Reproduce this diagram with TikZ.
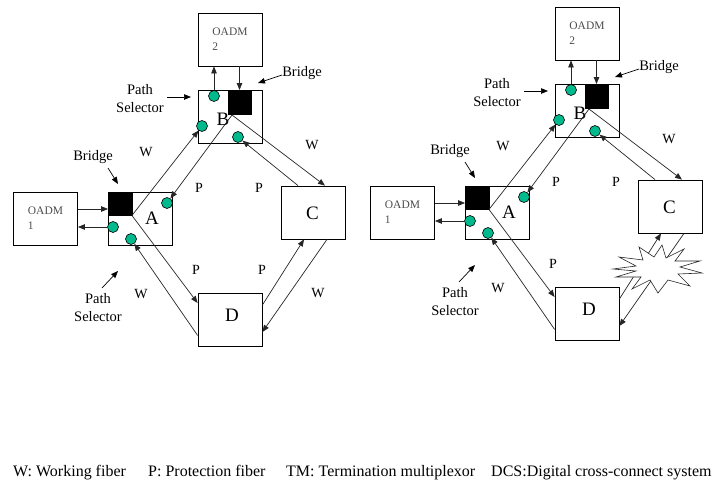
\documentclass[tikz,border=0pt]{standalone}
\usepackage{fontspec}
\setmainfont{Liberation Serif}
\usetikzlibrary{arrows.meta}

\definecolor{dotgreen}{RGB}{0,185,140}

\tikzset{
  netbox/.style={draw=black, fill=white, line width=0.8pt, inner sep=0pt,
    minimum width=64pt, minimum height=53pt},
  oadmbox/.style={netbox, align=left, text=black!70,
    font=\fontsize{11.5}{15}\selectfont},
  bigletter/.style={inner sep=0pt, font=\fontsize{19}{19}\selectfont},
  blacksq/.style={fill=black, draw=black, inner sep=0pt, minimum size=23.5pt},
  selector/.style={circle, fill=dotgreen, draw=black, line width=0.6pt,
    inner sep=0pt, minimum size=11pt},
  fiber/.style={draw=black!85, line width=0.7pt,
    -{Triangle[length=7pt,width=5.5pt]}},
  pointer/.style={draw=black, line width=0.7pt,
    -{Triangle[length=7pt,width=5.5pt]}},
  annot/.style={inner sep=0pt, align=center,
    font=\fontsize{14.5}{18}\selectfont},
  fiberlbl/.style={inner sep=0pt, font=\fontsize{14}{14}\selectfont},
  legend/.style={inner sep=0pt, anchor=base west,
    font=\fontsize{16}{16}\selectfont},
}

% One ring of four nodes A-D with its two add/drop multiplexers;
% #1 is the prefix of every node name.
\newcommand\ringnet[1]{%
  % boxes
  \node[oadmbox] (#1O2) at (230,39.5) {OADM\\2};
  \node[oadmbox] (#1O1) at (45.5,218.5) {OADM\\1};
  \node[netbox] (#1B) at (230,117) {};
  \node[netbox] (#1A) at (140.5,218.5) {};
  \node[netbox] (#1C) at (313.5,212.5) {};
  \node[netbox] (#1D) at (230,319.5) {};
  \node[bigletter] (#1Bl) at (223,119) {B};
  \node[bigletter] (#1Al) at (152,218) {A};
  \node[bigletter] (#1Cl) at (312.5,213) {C};
  \node[bigletter] (#1Dl) at (232,315.5) {D};
  % bridges
  \node[blacksq] (#1Bbk) at (239.5,102) {};
  \node[blacksq] (#1Abk) at (120,203.5) {};
  % path selectors
  \node[selector] (#1dB1) at (214,96) {};
  \node[selector] (#1dB2) at (202,126) {};
  \node[selector] (#1dB3) at (238,137) {};
  \node[selector] (#1dA1) at (167,203) {};
  \node[selector] (#1dA2) at (113,227) {};
  \node[selector] (#1dA3) at (131,239) {};
  % fiber end points on the boxes
  \coordinate (#1Bs) at (232,115);
  \coordinate (#1Cw) at ([xshift=11.5pt]#1C.north);
  \coordinate (#1Cp) at ([xshift=-15.5pt]#1C.north);
  \coordinate (#1Dp) at ([yshift=16.5pt]#1D.west);
  \coordinate (#1Dw) at ([yshift=11pt]#1D.south west);
  \coordinate (#1Dq) at ([yshift=14.5pt]#1D.east);
  \coordinate (#1Cq) at ([xshift=-9.5pt]#1C.south);
  \coordinate (#1Cv) at ([xshift=13.5pt]#1C.south);
  \coordinate (#1Dv) at ([yshift=-12.5pt]#1D.east);
  \coordinate (#1in) at ([yshift=9.5pt]#1O1.east);
  % fibers
  \draw[fiber] (#1Abk.south east) -- (#1dB2);
  \draw[fiber] (#1Bs) -- (#1dA1);
  \draw[fiber] (#1Bs) -- (#1Cw);
  \draw[fiber] (#1Cp) -- (#1dB3);
  \draw[fiber] (#1Abk.south east) -- (#1Dp);
  \draw[fiber] (#1Dw) -- (#1dA3);
  \draw[fiber] (#1Dq) -- (#1Cq);
  \draw[fiber] (#1Cv) -- (#1Dv);
  % add/drop links
  \draw[fiber] (#1in) -- (#1in -| #1Abk.west);
  \draw[fiber] (#1dA2.west) -- (#1dA2.west -| #1O1.east);
  \draw[fiber] (#1dB1.north) -- (#1dB1.north |- #1O2.south);
  \draw[fiber] (#1Bbk.north |- #1O2.south) -- (#1Bbk.north);
  % annotations
  \node[annot] (#1brT) at (302,73) {Bridge};
  \coordinate (#1brTa) at (282,75);
  \coordinate (#1brTb) at (258,83);
  \draw[pointer] (#1brTa) -- (#1brTb);
  \node[annot] (#1psT) at (140,99) {Path\\Selector};
  \coordinate (#1psTa) at (167,97);
  \coordinate (#1psTb) at (191,97);
  \draw[pointer] (#1psTa) -- (#1psTb);
  \node[annot] (#1brL) at (93,157) {Bridge};
  \coordinate (#1brLa) at (108,168);
  \coordinate (#1brLb) at (118,184);
  \draw[pointer] (#1brLa) -- (#1brLb);
  \node[annot] (#1psB) at (98,308) {Path\\Selector};
  \coordinate (#1psBa) at (102,288);
  \coordinate (#1psBb) at (118,271);
  \draw[pointer] (#1psBa) -- (#1psBb);
  % fiber labels
  \node[fiberlbl] (#1w1) at (146,152) {W};
  \node[fiberlbl] (#1w2) at (312,145) {W};
  \node[fiberlbl] (#1p1) at (199,188) {P};
  \node[fiberlbl] (#1p2) at (259,188) {P};
  \node[fiberlbl] (#1w3) at (141,294) {W};
  \node[fiberlbl] (#1p3) at (196,270) {P};
}

\begin{document}
\begin{tikzpicture}[x=1pt, y=-1pt]
  \useasboundingbox (0,0) rectangle (714,480);

  % normal operation
  \ringnet{l}
  \node[fiberlbl] (lp4) at (262,270) {P};
  \node[fiberlbl] (lw4) at (318,293) {W};

  % cut between C and D
  \begin{scope}[shift={(357,-6)}]
    \ringnet{r}
  \end{scope}
  \draw[draw=black!85, fill=white, line width=0.6pt]
    (613,269) -- (636,266) -- (619,257) -- (643,260) -- (639,247) --
    (654,257) -- (662,245) -- (666,258) -- (684,249) -- (675,261) --
    (700,261) -- (680,267) -- (702,273) -- (678,274) -- (690,286) --
    (668,280) -- (658,293) -- (650,280) -- (632,289) -- (641,277) --
    (616,277) -- (636,271) -- cycle;

  % legend
  \node[legend] (lg1) at (13,476.5) {W: Working fiber};
  \node[legend] (lg2) at (148,476.5) {P: Protection fiber};
  \node[legend] (lg3) at (286,476.5) {TM: Termination multiplexor};
  \node[legend] (lg4) at (491,476.5) {DCS:Digital cross-connect system};
\end{tikzpicture}
\end{document}
